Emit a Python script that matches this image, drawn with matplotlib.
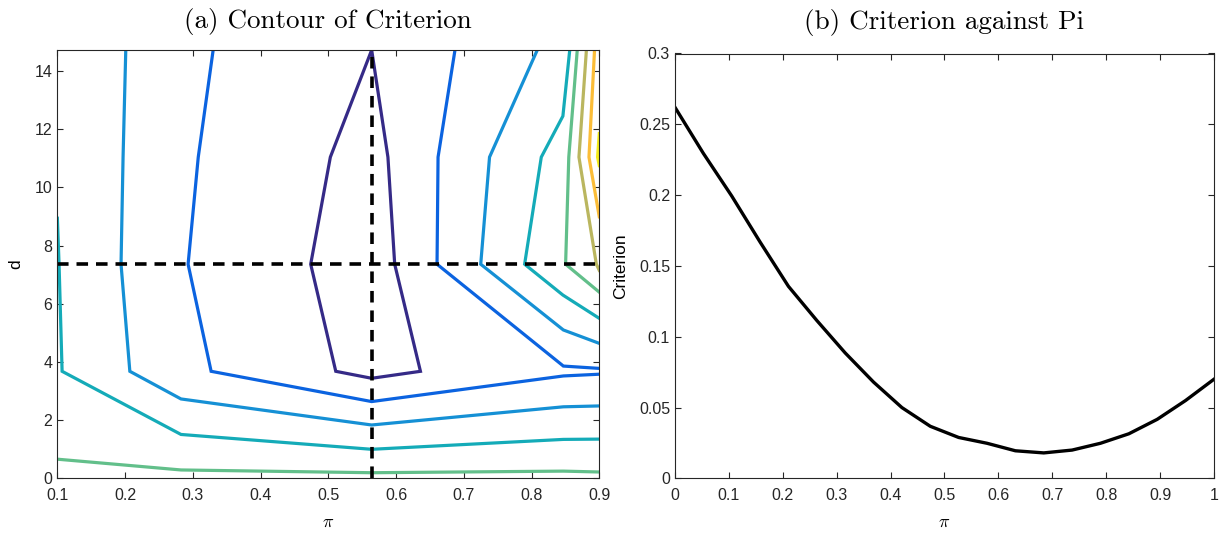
import matplotlib
matplotlib.use("Agg")
import matplotlib.pyplot as plt
import numpy as np

plt.rcParams['font.family'] = ['Liberation Sans', 'DejaVu Sans']
plt.rcParams['mathtext.fontset'] = 'cm'

# contour levels: each level is a list of (pi, d) polylines
level_colors = ['#352a87', '#0b63e0', '#1590d5', '#14abb8', '#62bf8a',
                '#bab65f', '#fbbd38', '#f5ec1c']

lvl1_pi = [[0.564, 0.503, 0.474, 0.511, 0.564, 0.636, 0.598, 0.588, 0.564]]
lvl1_d = [[14.72, 11.04, 7.36, 3.68, 3.44, 3.68, 7.36, 11.04, 14.72]]

lvl2_pi = [[0.330, 0.308, 0.293, 0.327, 0.564, 0.847, 0.9],
           [0.687, 0.662, 0.6605, 0.847, 0.9]]
lvl2_d = [[14.72, 11.04, 7.36, 3.68, 2.64, 3.52, 3.58],
          [14.72, 11.04, 7.36, 3.86, 3.78]]

lvl3_pi = [[0.201, 0.197, 0.194, 0.207, 0.2825, 0.564, 0.847, 0.9],
           [0.8085, 0.738, 0.725, 0.847, 0.9]]
lvl3_d = [[14.72, 11.04, 7.36, 3.68, 2.73, 1.835, 2.46, 2.49],
          [14.72, 11.04, 7.36, 5.10, 4.64]]

lvl4_pi = [[0.1, 0.1025, 0.107, 0.2825, 0.564, 0.847, 0.9],
           [0.8564, 0.8463, 0.8144, 0.7898, 0.8463, 0.9]]
lvl4_d = [[8.94, 7.36, 3.68, 1.51, 1.0, 1.34, 1.35],
          [14.72, 12.45, 11.04, 7.36, 6.30, 5.50]]

lvl5_pi = [[0.1, 0.2825, 0.564, 0.847, 0.9],
           [0.8675, 0.855, 0.8503, 0.9]]
lvl5_d = [[0.66, 0.29, 0.195, 0.25, 0.22],
          [14.72, 11.04, 7.36, 6.40]]

lvl6_pi = [[0.881, 0.870, 0.8957, 0.9]]
lvl6_d = [[14.72, 11.04, 7.36, 7.15]]

lvl7_pi = [[0.893, 0.8848, 0.9]]
lvl7_d = [[14.72, 11.04, 8.99]]

lvl8_pi = [[0.9, 0.8975, 0.9]]
lvl8_d = [[11.85, 11.04, 10.75]]

levels_pi = [lvl1_pi, lvl2_pi, lvl3_pi, lvl4_pi, lvl5_pi, lvl6_pi, lvl7_pi, lvl8_pi]
levels_d = [lvl1_d, lvl2_d, lvl3_d, lvl4_d, lvl5_d, lvl6_d, lvl7_d, lvl8_d]

# optimum marked by the dashed cross
pi_opt = 0.564
d_opt = 7.36
d_max = 14.72

# panel (b): criterion on a 20-point grid of pi
pi_grid = np.linspace(0, 1, 20)
criterion = [0.262, 0.2295, 0.1994, 0.1669, 0.1356, 0.1115, 0.0886, 0.068,
             0.050, 0.0368, 0.0289, 0.0248, 0.0195, 0.018, 0.020, 0.0248,
             0.0315, 0.0417, 0.055, 0.070]

axcol = '#262626'

fig = plt.figure(figsize=(12.23, 5.35), dpi=100)
axA = fig.add_axes([0.0469, 0.1058, 0.4431, 0.8007])
axB = fig.add_axes([0.5519, 0.1058, 0.4407, 0.7942])

for col, lines_pi, lines_d in zip(level_colors, levels_pi, levels_d):
    for xs, ys in zip(lines_pi, lines_d):
        axA.plot(xs, ys, color=col, lw=2.3, solid_joinstyle='miter')

axA.plot([0.1, 0.9], [d_opt, d_opt], color='k', lw=2.6, linestyle=(0, (3.2, 2.2)))
axA.plot([pi_opt, pi_opt], [0, d_max], color='k', lw=2.6, linestyle=(0, (3.2, 2.2)))

axA.set_xlim(0.1, 0.9)
axA.set_ylim(0, d_max)
axA.set_xticks(np.arange(0.1, 0.91, 0.1))
axA.set_xticklabels(['0.1', '0.2', '0.3', '0.4', '0.5', '0.6', '0.7', '0.8', '0.9'])
axA.set_yticks(np.arange(0, 15, 2))
axA.set_xlabel(r'$\pi$', fontsize=13, labelpad=8)
axA.set_ylabel('d', fontsize=12.5, labelpad=8)
axA.set_title('(a) Contour of Criterion', fontname='cmr10', fontsize=19.5, pad=16)

axB.plot(pi_grid, criterion, color='k', lw=2.4)
axB.set_xlim(0, 1)
axB.set_ylim(0, 0.3)
axB.set_xticks(np.arange(0, 1.01, 0.1))
axB.set_xticklabels(['0', '0.1', '0.2', '0.3', '0.4', '0.5', '0.6', '0.7', '0.8', '0.9', '1'])
axB.set_yticks(np.arange(0, 0.31, 0.05))
axB.set_yticklabels(['0', '0.05', '0.1', '0.15', '0.2', '0.25', '0.3'])
axB.set_xlabel(r'$\pi$', fontsize=13, labelpad=8)
axB.set_ylabel('Criterion', fontsize=12.5, labelpad=8)
axB.set_title('(b) Criterion against Pi', fontname='cmr10', fontsize=19.5, pad=18)

for ax in [axA, axB]:
    ax.tick_params(direction='in', top=True, right=True, length=4, width=0.8,
                   colors=axcol, labelsize=11.5)
    ax.tick_params(axis='x', pad=7)
    for s in ax.spines.values():
        s.set_color(axcol)
        s.set_linewidth(0.8)

fig.savefig('out.png', dpi=100)
